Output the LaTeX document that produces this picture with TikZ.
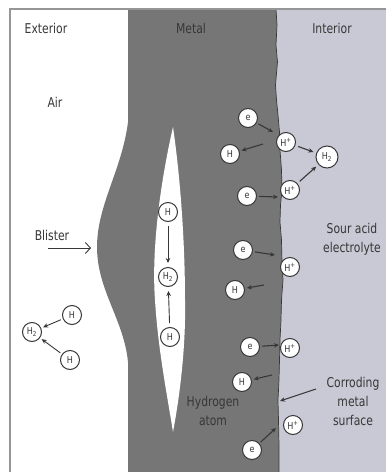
\documentclass[tikz,border=0pt]{standalone}
\usepackage{fontspec}
\setmainfont[FakeStretch=0.8]{DejaVu Sans}
\newfontfamily\atomfont[FakeStretch=0.85]{DejaVu Sans}
\usetikzlibrary{arrows.meta}

\definecolor{metalgray}{RGB}{118,118,118}
\definecolor{interiorgray}{RGB}{200,201,212}
\definecolor{inkgray}{RGB}{55,55,55}
\definecolor{framegray}{RGB}{150,150,150}
\definecolor{edgegray}{RGB}{55,55,55}

\tikzset{
  atom/.style={circle, draw=inkgray, line width=1pt, fill=white,
    minimum size=19pt, inner sep=0pt, text=inkgray,
    font=\atomfont\fontsize{9.5}{10}\selectfont},
  bigatom/.style={atom, minimum size=22pt},
  flow/.style={-{Stealth[length=5pt,width=4.5pt]}, draw=inkgray, line width=1.1pt},
  pointer/.style={-{Straight Barb[length=5pt,width=11pt]}, draw=inkgray, line width=0.9pt},
  caption/.style={text=inkgray, font=\fontsize{13.5}{19}\selectfont, align=center, inner sep=0pt},
}

\begin{document}
\begin{tikzpicture}[x=1pt,y=-1pt]
\useasboundingbox (0,0) rectangle (386,472);
\fill[white] (0,0) rectangle (386,472);
\begin{scope}
\clip (10,9) rectangle (386,472);

% metal wall with the blister bulge on the outer face
\fill[metalgray] (128,9) -- (128,122)
  .. controls (122,170) and (97,205) .. (97,247)
  .. controls (97,290) and (124,320) .. (128,362)
  -- (128,480) -- (300,480) -- (300,9) -- cycle;

% sour electrolyte against the corroding surface
\fill[interiorgray, draw=edgegray, line width=0.7pt]
  (276,-5) -- (276,9) -- (277,25) -- (276,45) -- (277.5,62) -- (275.5,85)
  -- (276.5,100) -- (278,115) -- (279.5,132) -- (280,150) -- (281.5,170)
  -- (282,190) -- (280.5,205) -- (280,222) -- (281.5,240) -- (282,262)
  -- (283,280) -- (281.5,300) -- (281,320) -- (280,340) -- (279.5,360)
  -- (279,380) -- (278,400) -- (278.5,420) -- (279,445) -- (279,480)
  -- (400,480) -- (400,-5) -- cycle;

% hydrogen-filled cavity inside the wall
\fill[white] (173,127)
  .. controls (162,175) and (151,245) .. (155,300)
  .. controls (158,350) and (168,400) .. (173,432)
  .. controls (179,400) and (186,350) .. (185,300)
  .. controls (185,240) and (180,175) .. (173,127) -- cycle;
\end{scope}

% outer frame
\draw[framegray, line width=1.8pt] (10,472) -- (10,9) -- (386,9);

% region titles
\node[caption] (exterior) at (46,28) {Exterior};
\node[caption] (metal) at (191,28) {Metal};
\node[caption] (interior) at (332,28) {Interior};
\node[caption] (air) at (55,102) {Air};
\node[caption] (blister) at (52,235) {Blister};
\node[caption] (electrolyte) at (352,239) {Sour acid\\electrolyte};
\node[caption] (surface) at (353,401) {Corroding\\metal\\surface};
\node[caption] (hatom) at (213,411) {Hydrogen\\atom};

% atoms at the corroding surface
\node[atom] (e1) at (248,118) {e};
\node[atom] (h1) at (230,154) {H};
\node[atom] (hp1) at (286,142) {H\textsuperscript{+}};
\node[bigatom] (h2a) at (327,157) {H\textsubscript{2}};
\node[atom] (e2) at (247,196) {e};
\node[atom] (hp2) at (290,190) {H\textsuperscript{+}};
\node[atom] (e3) at (243,250) {e};
\node[atom] (hp3) at (290,267) {H\textsuperscript{+}};
\node[atom] (h3) at (235,290) {H};
\node[atom] (e4) at (250,347) {e};
\node[atom] (hp4) at (290,348) {H\textsuperscript{+}};
\node[atom] (h4) at (242,382) {H};
\node[atom] (hp5) at (293,425) {H\textsuperscript{+}};
\node[atom] (e5) at (252,450) {e};

% atoms in the cavity
\node[atom] (hc1) at (168,212) {H};
\node[atom] (h2c) at (168,277) {H\textsubscript{2}};
\node[atom] (hc2) at (170,337) {H};

% atoms in the air
\node[atom] (hx1) at (72,315) {H};
\node[atom] (h2x) at (32,332) {H\textsubscript{2}};
\node[atom] (hx2) at (70,360) {H};

% free ends of arrows on the metal surface
\coordinate (s1) at (273,132);
\coordinate (s2) at (263,144);
\coordinate (s3) at (278,197);
\coordinate (s4) at (275,255);
\coordinate (s5) at (264,285);
\coordinate (s6) at (279,345);
\coordinate (s7) at (272,375);
\coordinate (s8) at (276,428);
\coordinate (b1) at (48,248);
\coordinate (b2) at (91,248);
\coordinate (c1) at (316,389);
\coordinate (c2) at (280,401);

% electron and hydrogen transfers
\draw[flow, shorten <=2pt] (e1) -- (s1);
\draw[flow, shorten >=2pt] (s2) -- (h1);
\draw[flow, shorten <=3pt, shorten >=3pt] (hp1) -- (h2a);
\draw[flow, shorten <=3pt, shorten >=3pt] (hp2) -- (h2a);
\draw[flow, shorten <=2pt] (e2) -- (s3);
\draw[flow, shorten <=2pt] (e3) -- (s4);
\draw[flow, shorten >=2pt] (s5) -- (h3);
\draw[flow, shorten <=2pt] (e4) -- (s6);
\draw[flow, shorten >=2pt] (s7) -- (h4);
\draw[flow, shorten <=2pt] (e5) -- (s8);

\draw[flow, line width=0.9pt, shorten <=4pt, shorten >=4pt] (hc1) -- (h2c);
\draw[flow, line width=0.9pt, shorten <=4pt, shorten >=4pt] (hc2) -- (h2c);
\draw[flow, line width=0.9pt, shorten <=2pt, shorten >=2pt] (hx1) -- (h2x);
\draw[flow, line width=0.9pt, shorten <=2pt, shorten >=2pt] (hx2) -- (h2x);

% callout arrows
\draw[pointer] (b1) -- (b2);
\draw[flow, line width=1pt] (c1) -- (c2);
\end{tikzpicture}
\end{document}
